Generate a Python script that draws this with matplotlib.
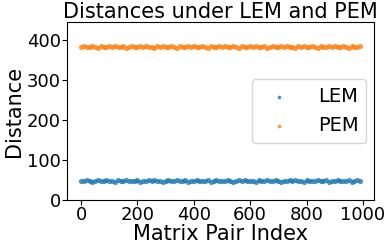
import matplotlib
matplotlib.use("Agg")
import matplotlib.pyplot as plt

# matrix pair indices (sampled every 10 pairs)
pair_index = list(range(0, 1000, 10))

# distances
lem_dist = [48, 47, 49, 48, 46, 48, 50, 47, 48, 49,
            47, 48, 46, 49, 48, 47, 50, 48, 47, 48,
            49, 46, 48, 47, 49, 48, 50, 47, 48, 46,
            48, 49, 47, 48, 50, 47, 48, 49, 46, 48,
            47, 49, 48, 47, 48, 50, 46, 48, 49, 47,
            48, 47, 49, 48, 46, 48, 50, 47, 49, 48,
            47, 48, 46, 49, 48, 47, 50, 48, 47, 49,
            48, 46, 48, 47, 49, 48, 50, 47, 48, 46,
            49, 48, 47, 48, 50, 47, 48, 49, 46, 48,
            47, 49, 48, 47, 48, 50, 46, 48, 49, 47]
pem_dist = [383, 384, 382, 383, 385, 383, 381, 384, 383, 382,
            384, 383, 385, 382, 383, 384, 381, 383, 384, 383,
            382, 385, 383, 384, 382, 383, 381, 384, 383, 385,
            383, 382, 384, 383, 381, 384, 383, 382, 385, 383,
            384, 382, 383, 384, 383, 381, 385, 383, 382, 384,
            383, 384, 382, 383, 385, 383, 381, 384, 382, 383,
            384, 383, 385, 382, 383, 384, 381, 383, 384, 382,
            383, 385, 383, 384, 382, 383, 381, 384, 383, 385,
            382, 383, 384, 383, 381, 384, 383, 382, 385, 383,
            384, 382, 383, 384, 383, 381, 385, 383, 382, 384]

x_ticks = [0, 200, 400, 600, 800, 1000]
y_ticks = [0, 100, 200, 300, 400]

fig, ax = plt.subplots(figsize=(3.86, 2.44), dpi=100)
ax.scatter(pair_index, lem_dist, s=14, alpha=0.8, color="#1f77b4",
           linewidths=0, label="LEM")
ax.scatter(pair_index, pem_dist, s=14, alpha=0.8, color="#ff7f0e",
           linewidths=0, label="PEM")
ax.set_ylim(0, 445)
ax.set_xticks(x_ticks)
ax.set_yticks(y_ticks)
ax.set_title("Distances under LEM and PEM", fontsize=15, pad=3)
ax.set_xlabel("Matrix Pair Index", fontsize=15, labelpad=0)
ax.set_ylabel("Distance", fontsize=15, labelpad=2)
ax.tick_params(labelsize=13, pad=1)
ax.legend(loc="center right", fontsize=14, markerscale=0.7,
          handletextpad=1.0, borderaxespad=0.4)
fig.subplots_adjust(left=0.174, right=0.969, top=0.91, bottom=0.18)
fig.savefig("out.png")
